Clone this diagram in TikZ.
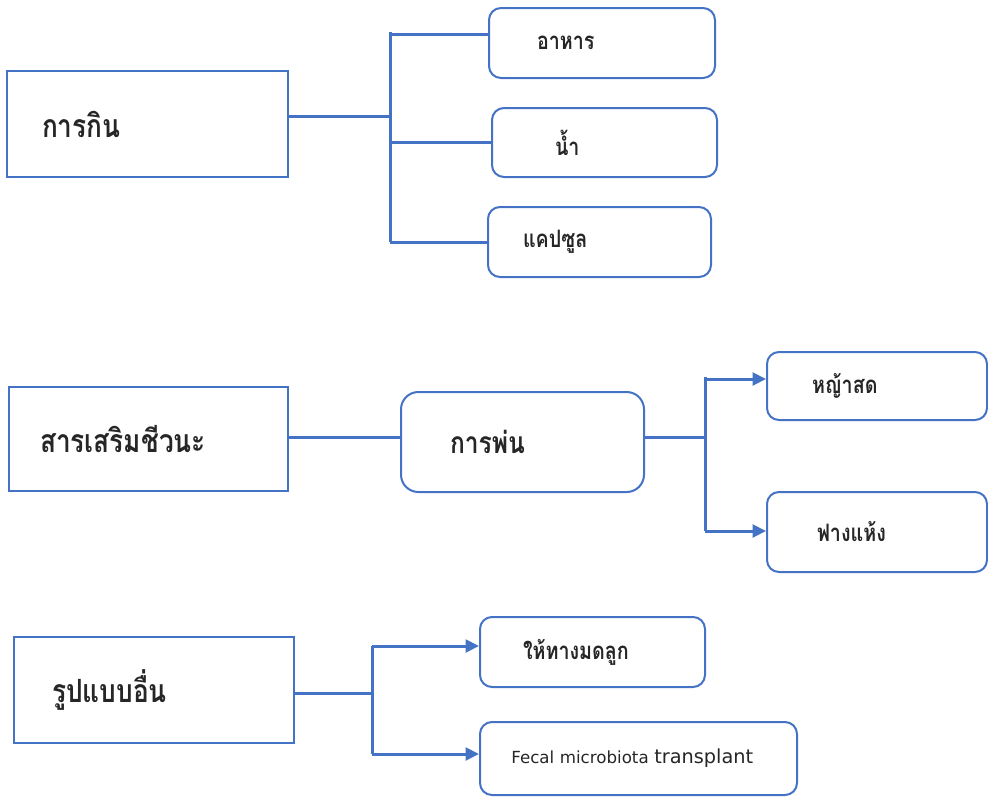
\documentclass[tikz,border=0pt]{standalone}
\usepackage{fontspec}
\newfontfamily\thaifont[Script=Thai,FakeStretch=0.82]{Loma}
\newfontfamily\fmtfont{DejaVu Sans}
\usetikzlibrary{arrows.meta}
\definecolor{lineblue}{HTML}{4472C4}
\definecolor{textgray}{HTML}{262626}

\begin{document}
\begin{tikzpicture}[
  x=0.75pt, y=-0.75pt,
  root/.style={draw=lineblue, line width=1.5pt, align=left, inner ysep=0pt, text=textgray,
               font=\thaifont\bfseries\fontsize{24}{28}\selectfont},
  leaf/.style={draw=lineblue, line width=1.5pt, rounded corners=9pt, align=left, inner ysep=0pt,
               text=textgray, font=\thaifont\bfseries\fontsize{18}{22}\selectfont},
  link/.style={draw=lineblue, line width=2.25pt},
  arr/.style={link, -{Triangle[length=10pt, width=9.5pt]}}
]
\useasboundingbox (0,0) rectangle (988,796);

\node[root, minimum width=210.75pt, minimum height=79.5pt, inner xsep=26.25pt, text width=158.25pt]
  (eat) at (147.5,124) {การกิน};
\node[leaf, minimum width=169.5pt, minimum height=52.5pt, inner xsep=36pt, text width=97.5pt]
  (food) at (602,43) {อาหาร};
\node[leaf, minimum width=168.75pt, minimum height=51.75pt, inner xsep=47.25pt, text width=74.25pt]
  (water) at (604.5,142.5) {น้ำ};
\node[leaf, minimum width=167.25pt, minimum height=52.5pt, inner xsep=26.25pt, text width=114.75pt]
  (capsule) at (599.5,242) {แคปซูล};

\node[root, minimum width=209.25pt, minimum height=78pt, inner xsep=23.25pt, text width=162.75pt]
  (probio) at (148.5,439) {สารเสริมชีวนะ};
\node[leaf, rounded corners=13pt, minimum width=182.25pt, minimum height=75pt, inner xsep=36.75pt,
      text width=108.75pt, font=\thaifont\bfseries\fontsize{22.5}{26}\selectfont]
  (spray) at (522.5,442) {การพ่น};
\node[leaf, minimum width=165pt, minimum height=51pt, inner xsep=33.75pt, text width=97.5pt]
  (grass) at (877,386) {หญ้าสด};
\node[leaf, minimum width=165pt, minimum height=60pt, inner xsep=37.5pt, text width=90pt]
  (straw) at (877,532) {ฟางแห้ง};

\node[root, minimum width=210pt, minimum height=79.5pt, inner xsep=28.5pt, text width=153pt]
  (other) at (154,690) {รูปแบบอื่น};
\node[leaf, minimum width=168.75pt, minimum height=52.5pt, inner xsep=32.25pt, text width=104.25pt]
  (uterus) at (592.5,652) {ให้ทางมดลูก};
\node[leaf, minimum width=237.75pt, minimum height=54.75pt, inner xsep=20pt, text width=197.75pt,
      font=\fmtfont\fontsize{12.5}{15}\selectfont]
  (fmt) at (638.5,758.5) {\hspace*{3.5pt}Fecal microbiota {\fontsize{14.5}{15}\selectfont transplant}};

\coordinate (fork1) at (390,116);
\draw[link] (eat.east |- fork1) -- (fork1);
\draw[link] (fork1 |- 0,32) -- (fork1 |- capsule.west);
\draw[link] (fork1 |- 0,34) -- (food.west |- 0,34);
\draw[link] (fork1 |- water.west) -- (water.west);
\draw[link] (fork1 |- capsule.west) -- (capsule.west);

\coordinate (fork2) at (705,437);
\draw[link] (probio.east |- fork2) -- (spray.west |- fork2);
\draw[link] (spray.east |- fork2) -- (fork2);
\draw[link] (fork2 |- 0,377) -- (fork2 |- 0,531);
\draw[arr] (fork2 |- 0,379) -- (grass.west |- 0,379);
\draw[arr] (fork2 |- 0,531) -- (straw.west |- 0,531);

\coordinate (fork3) at (372,693);
\draw[link] (other.east |- fork3) -- (fork3);
\draw[link] (fork3 |- 0,646) -- (fork3 |- 0,754);
\draw[arr] (fork3 |- 0,646) -- (uterus.west |- 0,646);
\draw[arr] (fork3 |- 0,754) -- (fmt.west |- 0,754);
\end{tikzpicture}
\end{document}
